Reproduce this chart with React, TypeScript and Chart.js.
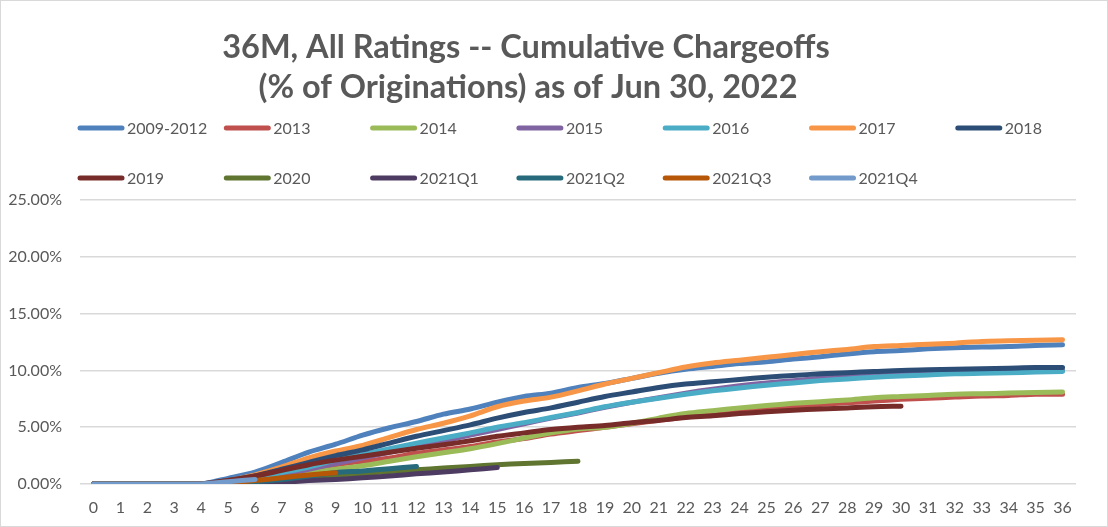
import React, { useEffect, useRef } from 'react';
import { Chart, registerables } from 'chart.js';

Chart.register(...registerables);

const FONT = 'Lato, "Open Sans", sans-serif';
const TEXT_COLOR = '#595959';

const titleLines = ['36M, All Ratings -- Cumulative Chargeoffs', '(% of Originations) as of Jun 30, 2022'];

const months = ['0','1','2','3','4','5','6','7','8','9','10','11','12','13','14','15','16','17','18','19','20','21','22','23','24','25','26','27','28','29','30','31','32','33','34','35','36'];

const yTicks = [0, 5, 10, 15, 20, 25];

const seriesNames = ['2009-2012', '2013', '2014', '2015', '2016', '2017', '2018', '2019', '2020', '2021Q1', '2021Q2', '2021Q3', '2021Q4'];

const seriesColors = ['#4F81BD', '#C0504D', '#9BBB59', '#8064A2', '#4BACC6', '#F79646', '#2C4D75', '#772C2A', '#5F7530', '#4D3B62', '#276A7C', '#B65708', '#729ACA'];

const s2009_2012 = [0,0,0,0,0,0.5,1.05,1.9,2.8,3.5,4.3,4.95,5.5,6.15,6.6,7.2,7.7,8.0,8.5,8.85,9.3,9.75,10.1,10.35,10.6,10.75,11.0,11.2,11.45,11.65,11.75,11.9,12.0,12.05,12.1,12.2,12.25];
const s2013 = [0,0,0,0,0,0.2,0.5,0.9,1.3,1.7,2.0,2.3,2.7,3.0,3.3,3.7,4.0,4.4,4.7,5.0,5.3,5.6,5.9,6.15,6.4,6.6,6.8,7.0,7.15,7.3,7.45,7.55,7.65,7.75,7.8,7.9,7.9];
const s2014 = [0,0,0,0,0,0.15,0.4,0.7,1.0,1.3,1.6,2.0,2.4,2.75,3.1,3.55,4.05,4.5,4.85,5.0,5.35,5.8,6.2,6.45,6.7,6.9,7.1,7.25,7.4,7.6,7.7,7.8,7.9,7.95,8.0,8.05,8.1];
const s2015 = [0,0,0,0,0,0.15,0.4,0.8,1.3,1.8,2.3,2.8,3.3,3.8,4.3,4.8,5.3,5.8,6.25,6.75,7.2,7.6,8.0,8.35,8.65,8.9,9.1,9.3,9.5,9.6,9.7,9.8,9.85,9.9,9.95,10.0,10.0];
const s2016 = [0,0,0,0,0,0.2,0.5,1.0,1.5,2.1,2.6,3.1,3.6,4.05,4.5,5.0,5.4,5.85,6.3,6.8,7.2,7.55,7.9,8.2,8.45,8.7,8.9,9.1,9.25,9.4,9.5,9.6,9.7,9.75,9.8,9.85,9.9];
const s2017 = [0,0,0,0,0,0.3,0.8,1.5,2.3,2.9,3.4,4.1,4.8,5.35,6.0,6.8,7.3,7.65,8.2,8.8,9.3,9.8,10.3,10.65,10.9,11.15,11.4,11.65,11.85,12.1,12.2,12.3,12.4,12.55,12.6,12.65,12.7];
const s2018 = [0,0,0,0,0,0.3,0.7,1.3,1.9,2.5,3.0,3.6,4.2,4.7,5.2,5.8,6.3,6.7,7.2,7.7,8.1,8.5,8.8,9.0,9.2,9.4,9.55,9.7,9.8,9.9,10.0,10.05,10.1,10.15,10.2,10.25,10.25];
const s2019 = [0,0,0,0,0,0.3,0.7,1.2,1.7,2.1,2.45,2.8,3.15,3.45,3.8,4.2,4.5,4.8,5.0,5.15,5.4,5.6,5.85,6.0,6.2,6.35,6.5,6.6,6.7,6.8,6.85];
const s2020 = [0,0,0,0,0,0.05,0.15,0.3,0.5,0.7,0.9,1.1,1.25,1.4,1.55,1.7,1.8,1.9,2.0];
const s2021Q1 = [0,0,0,0,0,0.02,0.05,0.15,0.3,0.4,0.55,0.7,0.9,1.05,1.25,1.45];
const s2021Q2 = [0,0,0,0,0,0.05,0.2,0.4,0.7,1.0,1.15,1.35,1.55];
const s2021Q3 = [0,0,0,0,0,0.1,0.3,0.55,0.8,1.0];
const s2021Q4 = [0,0,0,0,0,0.2,0.4];

const seriesValues = [s2009_2012, s2013, s2014, s2015, s2016, s2017, s2018, s2019, s2020, s2021Q1, s2021Q2, s2021Q3, s2021Q4];

const frameAndTextPlugin = {
  id: 'frameAndText',
  beforeDraw(chart: any) {
    const { ctx, width, height } = chart;
    ctx.save();
    ctx.fillStyle = '#FFFFFF';
    ctx.fillRect(0, 0, width, height);
    ctx.strokeStyle = '#D9D9D9';
    ctx.lineWidth = 1;
    ctx.strokeRect(0.5, 0.5, width - 1, height - 1);
    ctx.restore();
  },
  afterDraw(chart: any) {
    const { ctx } = chart;
    ctx.save();
    ctx.fillStyle = TEXT_COLOR;
    ctx.textAlign = 'center';
    ctx.textBaseline = 'middle';
    ctx.font = `bold 32.5px ${FONT}`;
    ctx.fillText(titleLines[0], 526, 48);
    ctx.fillText(titleLines[1], 528, 88);
    ctx.font = `16px ${FONT}`;
    ctx.textAlign = 'left';
    chart.data.datasets.forEach((ds: any, i: number) => {
      const col = i < 7 ? i : i - 7;
      const row = i < 7 ? 0 : 1;
      const x0 = 80 + col * 146.3;
      const y = row === 0 ? 128 : 178;
      ctx.strokeStyle = ds.borderColor;
      ctx.lineWidth = 5;
      ctx.lineCap = 'round';
      ctx.beginPath();
      ctx.moveTo(x0, y);
      ctx.lineTo(x0 + 42, y);
      ctx.stroke();
      ctx.fillStyle = TEXT_COLOR;
      ctx.fillText(ds.label, x0 + 47, y + 1);
    });
    ctx.restore();
  },
};

export default function App() {
  const ref = useRef<HTMLCanvasElement>(null);
  useEffect(() => {
    document.body.style.margin = '0';
    const n = seriesNames.length;
    const chart = new Chart(ref.current!, {
      type: 'line',
      data: {
        labels: months,
        datasets: seriesNames.map((name, i) => ({
          label: name,
          data: seriesValues[i],
          borderColor: seriesColors[i],
          backgroundColor: seriesColors[i],
          borderWidth: 5,
          borderCapStyle: 'round',
          borderJoinStyle: 'round',
          pointRadius: 0,
          tension: 0.3,
          fill: false,
          order: n - 1 - i,
        })),
      },
      options: {
        responsive: false,
        animation: false,
        layout: { padding: { top: 200, right: 32, left: 0, bottom: 0 } },
        plugins: {
          legend: { display: false },
          title: { display: false },
          tooltip: { enabled: false },
        },
        scales: {
          x: {
            type: 'category',
            offset: true,
            grid: { display: false, drawTicks: false },
            border: { display: false },
            ticks: {
              autoSkip: false,
              maxRotation: 0,
              padding: 14,
              color: TEXT_COLOR,
              font: { family: FONT, size: 16 },
            },
            afterFit: (s: any) => { s.height = 43; },
          },
          y: {
            min: 0,
            max: 25,
            afterBuildTicks: (s: any) => { s.ticks = yTicks.map((v) => ({ value: v })); },
            ticks: {
              padding: 18,
              color: TEXT_COLOR,
              font: { family: FONT, size: 16 },
              callback: (v: any) => Number(v).toFixed(2) + '%',
            },
            grid: { color: '#D9D9D9', lineWidth: 1.5, drawTicks: false },
            border: { display: false },
            afterFit: (s: any) => { s.width = 80; },
          },
        },
      },
      plugins: [frameAndTextPlugin],
    } as any);
    return () => chart.destroy();
  }, []);
  return (
    <div style={{ width: 1108, height: 527 }}>
      <canvas ref={ref} width={1108} height={527} style={{ display: 'block' }} />
    </div>
  );
}
